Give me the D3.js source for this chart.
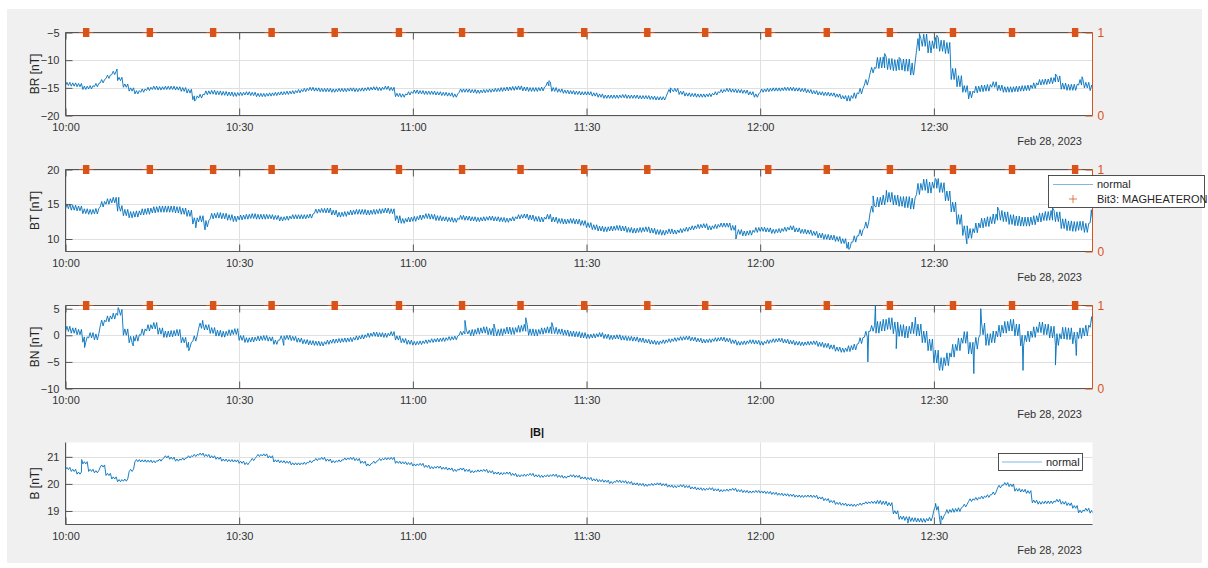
<!DOCTYPE html>
<html>
<head>
<meta charset="utf-8">
<script src="https://cdn.jsdelivr.net/npm/d3@7"></script>
<style>
  body { margin: 0; background: #fff; }
  svg { display: block; font-family: "Liberation Sans", Arial, Helvetica, sans-serif; }
</style>
</head>
<body>
<svg id="fig" width="1208" height="568"></svg>
<script>
// ---- time axis (minutes after 10:00 UT, 28 Feb 2023) ----
const spanMinutes = 177.4;
const xTickMinutes = [0, 30, 60, 90, 120, 150];
const xTickLabels = ["10:00", "10:30", "11:00", "11:30", "12:00", "12:30"];
const dateLabel = "Feb 28, 2023";

// ---- magnetic field components, one value per minute (nT) ----
const brValues = [
  -14.3,-14.4,-14.5,-15.0,-14.9,-14.5,-13.8,-13.0,-12.3,-13.4,
  -14.6,-15.3,-15.8,-15.5,-15.2,-15.0,-15.1,-15.0,-15.0,-15.1,
  -15.3,-15.6,-16.8,-16.5,-15.9,-15.8,-15.9,-16.0,-16.1,-16.2,
  -16.1,-16.0,-16.1,-16.3,-16.3,-16.2,-16.1,-16.0,-15.9,-15.8,
  -15.6,-15.4,-15.2,-15.3,-15.4,-15.4,-15.5,-15.4,-15.4,-15.3,
  -15.4,-15.3,-15.2,-15.1,-15.2,-15.0,-15.2,-16.3,-16.4,-16.0,
  -15.7,-15.8,-15.9,-15.9,-16.0,-16.1,-16.2,-16.4,-15.5,-15.5,
  -15.6,-15.7,-15.6,-15.5,-15.4,-15.3,-15.2,-15.1,-15.0,-15.2,
  -15.3,-15.3,-15.2,-14.3,-15.3,-15.5,-15.7,-15.8,-15.9,-16.0,
  -16.0,-16.2,-16.4,-16.6,-16.6,-16.6,-16.5,-16.6,-16.6,-16.7,
  -16.7,-16.8,-16.9,-16.9,-15.6,-15.4,-15.9,-16.2,-16.3,-16.4,
  -16.4,-16.3,-16.0,-15.6,-15.4,-15.5,-15.6,-15.7,-16.0,-16.4,
  -15.5,-15.4,-15.3,-15.3,-15.2,-15.2,-15.3,-15.4,-15.6,-15.8,
  -16.0,-16.1,-16.2,-16.4,-16.7,-16.9,-16.4,-15.6,-14.0,-11.8,
  -10.5,-10.4,-10.7,-10.9,-10.8,-10.9,-11.6,-7.2,-6.4,-7.6,
  -6.9,-7.4,-7.8,-12.5,-13.8,-15.2,-16.2,-15.3,-15.1,-15.0,
  -14.4,-15.0,-15.3,-15.3,-15.2,-15.1,-15.0,-14.6,-14.0,-13.9,
  -13.7,-13.4,-14.7,-14.9,-14.9,-14.0,-14.5,-15.0
];
const btValues = [
  14.7,14.5,14.4,14.0,13.9,14.0,15.0,15.4,15.6,14.4,
  13.8,13.5,13.6,13.9,14.0,14.2,14.3,14.3,14.3,14.2,
  14.0,13.7,12.6,12.9,12.2,13.3,13.4,13.3,13.1,12.9,
  13.1,13.2,13.3,13.2,13.2,13.2,13.1,12.9,13.0,13.2,
  13.2,13.2,13.3,14.0,14.1,14.1,13.8,13.5,13.6,13.8,
  13.9,13.9,13.8,13.9,14.0,14.1,14.0,13.0,12.6,12.8,
  12.9,13.1,13.3,13.2,13.0,12.9,12.8,12.7,13.1,13.0,
  12.9,12.8,12.9,13.0,12.9,12.8,12.7,12.9,13.2,13.3,
  13.1,12.9,12.8,13.2,12.8,12.6,12.5,12.6,12.5,12.3,
  12.0,11.7,11.5,11.4,11.5,11.6,11.5,11.3,11.2,11.3,
  11.4,11.2,11.0,10.9,11.1,11.0,11.2,11.4,11.6,11.8,
  11.9,11.6,11.8,12.0,12.0,11.6,11.0,10.8,10.9,11.3,
  11.4,11.3,11.1,11.2,11.4,11.6,11.3,11.1,11.0,10.8,
  10.5,10.3,10.2,10.0,9.7,9.1,10.0,10.9,12.0,14.3,
  15.3,15.6,16.0,15.6,15.4,15.3,15.1,17.2,17.8,17.4,
  18.0,17.4,16.2,14.6,12.8,11.2,10.8,11.6,12.3,12.5,
  12.9,13.4,13.2,12.8,12.6,12.5,12.5,12.7,13.1,13.3,
  13.4,13.2,12.2,11.9,11.8,11.9,11.6,13.0
];
const bnValues = [
  1.2,0.9,0.6,-0.8,0.0,-0.3,2.3,3.1,3.6,4.3,
  0.6,-0.8,-0.5,0.6,1.4,1.8,0.8,0.2,0.3,0.5,
  -0.9,-1.8,-0.6,1.8,1.5,0.9,0.4,0.2,0.5,0.7,
  -0.5,-0.9,-0.8,-0.6,-0.5,-0.7,-1.3,-0.5,-0.4,-0.6,
  -0.9,-1.2,-1.4,-1.5,-1.6,-1.3,-1.1,-1.0,-0.9,-0.8,
  -0.5,-0.3,0.0,0.2,0.1,0.0,0.3,-0.5,-1.0,-1.3,
  -1.5,-1.4,-1.2,-1.0,-0.9,-0.8,-0.6,-0.5,0.4,0.6,
  0.5,0.8,1.0,0.7,0.5,0.6,0.9,0.8,1.2,1.4,
  0.6,0.5,0.8,1.0,0.9,0.7,0.5,0.3,0.2,0.0,
  -0.2,-0.1,0.1,-0.2,-0.4,-0.3,-0.5,-0.6,-0.7,-0.9,
  -1.1,-1.3,-1.4,-1.2,-1.0,-0.8,-0.6,-0.5,-0.7,-0.9,
  -1.1,-1.0,-0.8,-0.7,-0.9,-1.2,-1.5,-1.4,-1.2,-1.3,
  -1.5,-1.2,-1.0,-0.9,-1.1,-1.3,-1.5,-1.6,-1.5,-1.4,
  -1.7,-1.9,-2.2,-2.6,-2.8,-2.5,-2.2,-1.0,0.2,1.3,
  1.5,1.9,2.2,1.4,0.9,0.6,1.4,1.0,-0.3,-1.8,
  -4.0,-5.4,-4.5,-2.9,-1.7,-0.4,-2.4,-1.5,1.2,-0.8,
  -0.3,0.8,1.5,1.9,1.0,-1.0,-0.2,0.6,1.5,1.1,
  0.6,-0.8,0.4,0.3,-0.5,0.4,0.9,2.5
];
const bValues = [
  20.57,20.50,20.40,20.78,20.50,20.45,20.66,20.35,20.22,20.12,
  20.14,20.50,20.86,20.85,20.84,20.82,20.88,21.00,20.95,20.88,
  20.92,21.00,21.05,21.10,21.05,21.00,20.95,20.88,20.86,20.85,
  20.80,20.75,20.90,21.05,21.07,21.00,20.85,20.82,20.80,20.74,
  20.74,20.76,20.82,20.90,20.94,20.88,20.82,20.85,20.92,20.94,
  20.90,20.80,20.70,20.80,20.90,20.93,20.94,20.80,20.78,20.75,
  20.70,20.72,20.65,20.60,20.62,20.58,20.55,20.50,20.55,20.50,
  20.45,20.48,20.50,20.45,20.40,20.38,20.40,20.35,20.30,20.32,
  20.35,20.30,20.28,20.30,20.32,20.28,20.25,20.30,20.28,20.22,
  20.20,20.15,20.12,20.10,20.05,20.10,20.08,20.05,20.00,19.98,
  19.95,19.98,20.00,19.97,19.92,19.90,19.93,19.90,19.85,19.82,
  19.80,19.82,19.78,19.75,19.77,19.80,19.75,19.72,19.70,19.72,
  19.70,19.68,19.65,19.62,19.60,19.58,19.55,19.54,19.55,19.54,
  19.48,19.42,19.35,19.28,19.25,19.22,19.21,19.25,19.30,19.32,
  19.33,19.30,19.25,18.95,18.75,18.72,18.68,18.66,18.65,18.70,
  19.10,18.75,18.98,19.02,19.05,19.20,19.40,19.45,19.50,19.55,
  19.65,19.90,20.00,19.95,19.78,19.75,19.70,19.35,19.30,19.32,
  19.32,19.38,19.30,19.25,19.15,18.98,19.05,18.97
];

// ---- short-term fluctuation half-width, per 5-minute block (nT) ----
const brSpread = [0.3,0.3,0.3,0.3,0.35,0.35,0.3,0.3,0.3,0.3,0.3,0.3,0.3,0.3,0.3,0.35,0.35,0.3,
                  0.3,0.3,0.3,0.3,0.3,0.3,0.3,0.3,0.3,0.5,1.0,1.1,1.0,0.6,0.5,0.5,0.55,0.5];
const btSpread = [0.35,0.4,0.45,0.45,0.45,0.4,0.35,0.3,0.3,0.35,0.35,0.35,0.35,0.3,0.3,0.3,0.35,0.35,
                  0.35,0.35,0.35,0.3,0.3,0.35,0.3,0.3,0.35,0.45,0.7,0.8,0.7,0.7,0.7,0.65,0.7,0.65];
const bnSpread = [0.5,0.55,0.6,0.6,0.5,0.55,0.45,0.4,0.4,0.4,0.4,0.4,0.35,0.35,0.6,0.65,0.6,0.5,
                  0.4,0.4,0.35,0.35,0.35,0.35,0.35,0.35,0.4,0.55,1.1,1.1,1.2,1.1,1.1,1.0,1.1,1.0];
const bSpread  = [0.04,0.04,0.04,0.04,0.04,0.04,0.04,0.04,0.04,0.04,0.04,0.04,0.04,0.04,0.04,0.04,0.04,0.04,
                  0.04,0.04,0.04,0.04,0.04,0.04,0.04,0.04,0.04,0.04,0.06,0.07,0.07,0.05,0.05,0.05,0.05,0.05];

// ---- isolated spikes [minute, nT] ----
const brSpikes = [[8.9,-11.6],[22.3,-17.4],[83.5,-13.7],[104.5,-15.0],[141.5,-8.8],[144,-9.5],
                  [146.4,-12.4],[147.5,-5.2],[150.5,-5.5],[156,-17.0],[171,-12.5],[175.6,-13.0]];
const btSpikes = [[9.2,16.0],[22.5,11.6],[24.1,11.3],[57.5,12.3],[115.8,10.0],[135.3,8.5],
                  [139.5,16.2],[141.8,17.0],[150.4,18.6],[155.7,9.3],[161,14.6],[170.5,14.5],[177.2,14.2]];
const bnSpikes = [[3.3,-2.3],[9.1,5.2],[11.7,-2.0],[21.3,-2.9],[23.7,2.8],[37.7,-1.9],[44.0,-2.0],
                  [69,2.8],[74,2.1],[79.5,3.3],[84,2.4],[138.6,-5.0],[139.9,5.6],[143.5,-2.5],
                  [146.8,3.4],[150.9,-6.2],[156.9,-7.2],[158.1,5.0],[165.4,-6.6],[171.0,-5.6],[174.6,-3.8]];
const bSpikes  = [[2.8,20.9],[145.5,18.55],[150.3,19.28],[151.2,18.45]];

// ---- Bit3 MAGHEATERON flag: centre minute of each "on" interval ----
const flagCenters = [3.57,14.57,25.5,35.6,46.5,57.6,68.5,78.6,89.6,100.5,110.5,121.4,131.5,142.4,153.3,163.5,174.4];
const flagHalfWidth = 0.45;

// ---- axis settings ----
const brDomain = [-20, -5],   brTicks = [-20, -15, -10, -5];
const btDomain = [8.2, 20],   btTicks = [10, 15, 20];
const bnDomain = [-10, 5.6],  bnTicks = [-10, -5, 0, 5];
const bDomain  = [18.5, 21.53], bTicks = [19, 20, 21];
const flagTicks = [0, 1];

const lineBlue = "#0072BD";
const flagOrange = "#D95319";
const axisGrey = "#555";
const textGrey = "#333";
const gridGrey = "#e0e0e0";
const intFmt = d3.format("d");

const svg = d3.select("#fig");
svg.append("rect").attr("x", 7).attr("y", 9).attr("width", 1195).attr("height", 554).attr("fill", "#f0f0f0");

const left = 65.5, right = 1092.5;
const x = d3.scaleLinear().domain([0, spanMinutes]).range([left, right]);

const panels = [
  { label: "BR [nT]", values: brValues, spread: brSpread, spikes: brSpikes, domain: brDomain, ticks: brTicks, top: 32.5,  bottom: 115.5, flagged: true },
  { label: "BT [nT]", values: btValues, spread: btSpread, spikes: btSpikes, domain: btDomain, ticks: btTicks, top: 169.5, bottom: 251.5, flagged: true },
  { label: "BN [nT]", values: bnValues, spread: bnSpread, spikes: bnSpikes, domain: bnDomain, ticks: bnTicks, top: 305.5, bottom: 388.5, flagged: true },
  { label: "B [nT]",  values: bValues,  spread: bSpread,  spikes: bSpikes,  domain: bDomain,  ticks: bTicks,  top: 442.5, bottom: 524.5, flagged: false }
];

// trace: per-minute level swinging by the block's fluctuation width, plus spikes
function tracePoints(values, spread, spikes) {
  const pts = [];
  values.forEach((v, i) => {
    const s = spread[Math.floor(i / 5)];
    pts.push([i, v - s]);
    pts.push([i + 0.25, v + s]);
    pts.push([i + 0.5, v - s]);
    pts.push([i + 0.75, v + s]);
  });
  spikes.forEach(p => pts.push(p));
  pts.sort((a, b) => a[0] - b[0]);
  return pts;
}

function styleAxis(g, color) {
  g.attr("font-family", null).attr("font-size", null);
  g.select(".domain").remove();
  g.selectAll(".tick line").attr("stroke", color);
  g.selectAll(".tick text").attr("fill", textGrey).style("font-size", "11px");
}

const plusPath = "M-4.5,0H4.5M0,-4.5V4.5";

panels.forEach((p, k) => {
  const g = svg.append("g");
  const y = d3.scaleLinear().domain(p.domain).range([p.bottom, p.top]);

  g.append("rect").attr("x", left).attr("y", p.top)
    .attr("width", right - left).attr("height", p.bottom - p.top).attr("fill", "#fff");

  // grid
  g.append("g").selectAll("line").data(xTickMinutes).join("line")
    .attr("x1", d => Math.round(x(d)) + 0.5).attr("x2", d => Math.round(x(d)) + 0.5)
    .attr("y1", p.top).attr("y2", p.bottom).attr("stroke", gridGrey);
  g.append("g").selectAll("line").data(p.ticks).join("line")
    .attr("x1", left).attr("x2", right)
    .attr("y1", d => Math.round(y(d)) + 0.5).attr("y2", d => Math.round(y(d)) + 0.5)
    .attr("stroke", gridGrey);

  // data trace
  const clipId = "plotclip" + k;
  svg.append("clipPath").attr("id", clipId).append("rect")
    .attr("x", left).attr("y", p.top).attr("width", right - left).attr("height", p.bottom - p.top);
  g.append("path")
    .datum(tracePoints(p.values, p.spread, p.spikes))
    .attr("clip-path", `url(#${clipId})`)
    .attr("fill", "none").attr("stroke", lineBlue).attr("stroke-width", 0.9)
    .attr("stroke-linejoin", "round")
    .attr("d", d3.line().x(d => x(d[0])).y(d => y(d[1])));

  // x axis (bottom, inward ticks)
  const xb = g.append("g").attr("transform", `translate(0,${p.bottom})`)
    .call(d3.axisBottom(x).tickValues(xTickMinutes).tickFormat((d, i) => xTickLabels[i]).tickSize(-7).tickPadding(8));
  styleAxis(xb, axisGrey);

  // y axis (left, inward ticks)
  const yl = g.append("g").attr("transform", `translate(${left},0)`)
    .call(d3.axisLeft(y).tickValues(p.ticks).tickFormat(intFmt).tickSize(-7).tickPadding(6));
  styleAxis(yl, axisGrey);

  // frame
  g.append("line").attr("x1", left).attr("x2", left).attr("y1", p.top).attr("y2", p.bottom).attr("stroke", axisGrey);
  g.append("line").attr("x1", left).attr("x2", right).attr("y1", p.bottom).attr("y2", p.bottom).attr("stroke", axisGrey);

  if (p.flagged) {
    const xt = g.append("g").attr("transform", `translate(0,${p.top})`)
      .call(d3.axisTop(x).tickValues(xTickMinutes).tickFormat("").tickSize(-7));
    styleAxis(xt, axisGrey);
    g.append("line").attr("x1", left).attr("x2", right).attr("y1", p.top).attr("y2", p.top).attr("stroke", axisGrey);

    // right axis for the flag (0/1)
    const yR = d3.scaleLinear().domain([0, 1]).range([p.bottom, p.top]);
    const yr = g.append("g").attr("transform", `translate(${right},0)`)
      .call(d3.axisRight(yR).tickValues(flagTicks).tickFormat(intFmt).tickSize(-7).tickPadding(5));
    styleAxis(yr, flagOrange);
    yr.selectAll(".tick text").attr("fill", flagOrange).style("font-size", "12px");
    g.append("line").attr("x1", right).attr("x2", right).attr("y1", p.top).attr("y2", p.bottom).attr("stroke", flagOrange);

    // Bit3 flag markers (value 1 while heater is on)
    const flagSamples = [];
    flagCenters.forEach(c => {
      for (let t = c - flagHalfWidth; t <= c + flagHalfWidth + 1e-9; t += 0.1) flagSamples.push(t);
    });
    g.append("g").selectAll("path").data(flagSamples).join("path")
      .attr("d", plusPath)
      .attr("transform", d => `translate(${x(d)},${yR(1)})`)
      .attr("fill", "none").attr("stroke", flagOrange).attr("stroke-width", 1.2);
  }

  // labels
  g.append("text")
    .attr("transform", `translate(39,${(p.top + p.bottom) / 2}) rotate(-90)`)
    .attr("text-anchor", "middle").attr("fill", "#262626").style("font-size", "12px")
    .text(p.label);
  g.append("text").attr("x", 1082).attr("y", p.bottom + 29.5)
    .attr("text-anchor", "end").attr("fill", textGrey).style("font-size", "11px")
    .text(dateLabel);
});

// title of the |B| panel
svg.append("text").attr("x", 537).attr("y", 436).attr("text-anchor", "middle")
  .attr("fill", "#111").style("font-size", "11px").style("font-weight", "bold").text("|B|");

// legend in the BT panel
const lg1 = svg.append("g");
lg1.append("rect").attr("x", 1048.5).attr("y", 175.5).attr("width", 156).attr("height", 32)
  .attr("fill", "#fff").attr("stroke", "#262626").attr("stroke-width", 0.8);
lg1.append("line").attr("x1", 1053).attr("x2", 1093).attr("y1", 184.5).attr("y2", 184.5)
  .attr("stroke", lineBlue).attr("stroke-opacity", 0.5).attr("stroke-width", 1.2);
lg1.append("text").attr("x", 1097).attr("y", 184.5).attr("dy", "0.35em")
  .attr("fill", "#262626").style("font-size", "11px").text("normal");
lg1.append("path").attr("d", "M-4,0H4M0,-4V4").attr("transform", "translate(1073,199)")
  .attr("fill", "none").attr("stroke", flagOrange).attr("stroke-opacity", 0.75);
lg1.append("text").attr("x", 1097).attr("y", 199).attr("dy", "0.35em")
  .attr("fill", "#262626").style("font-size", "11px").text("Bit3: MAGHEATERON");

// legend in the |B| panel
const lg2 = svg.append("g");
lg2.append("rect").attr("x", 998.5).attr("y", 453.5).attr("width", 84).attr("height", 17)
  .attr("fill", "#fff").attr("stroke", "#262626").attr("stroke-width", 0.8);
lg2.append("line").attr("x1", 1002).attr("x2", 1042).attr("y1", 462).attr("y2", 462)
  .attr("stroke", lineBlue).attr("stroke-opacity", 0.5).attr("stroke-width", 1.2);
lg2.append("text").attr("x", 1046).attr("y", 462).attr("dy", "0.35em")
  .attr("fill", "#262626").style("font-size", "11px").text("normal");
</script>
</body>
</html>
